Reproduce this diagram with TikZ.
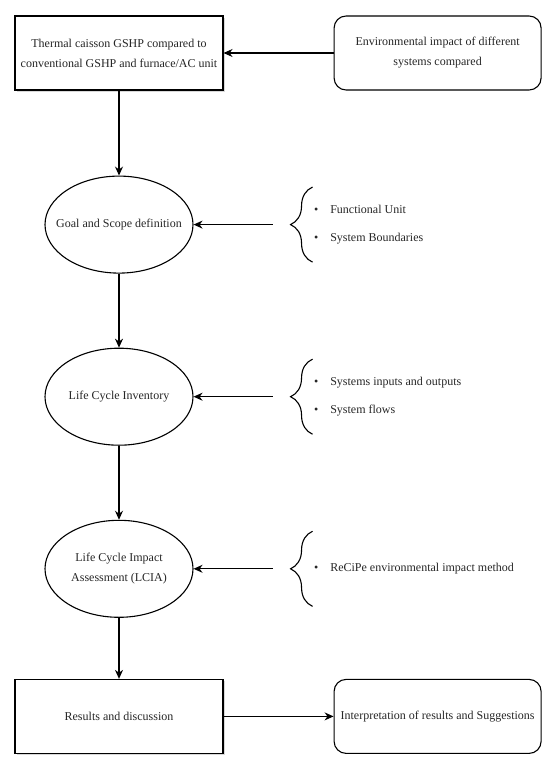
\documentclass[tikz,border=0pt]{standalone}
\usepackage{fontspec}
\setmainfont{Liberation Serif}
\usetikzlibrary{shapes, positioning, arrows.meta, shadows, decorations.pathreplacing}

\begin{document}
\begin{tikzpicture}[font=\fontsize{12}{20}\selectfont, line width=1.1pt, text=black!85]
        \tikzstyle{block} = [rectangle, draw, fill=white, align=center, minimum width=208pt, minimum height=74pt, drop shadow={shadow xshift=2pt, shadow yshift=-2pt, fill=black!30}]
        \tikzstyle{soft} = [rectangle, draw, rounded corners=12pt, align=center, minimum width=207pt, minimum height=74pt]
        \tikzstyle{stage} = [ellipse, draw, align=center, minimum width=148pt, minimum height=97pt, inner xsep=-12pt, inner ysep=0pt]
        \tikzstyle{items} = [rectangle, align=left, minimum height=74pt, inner sep=0pt]
        \tikzstyle{line} = [-{Stealth[length=9pt, width=8pt]}]
        \tikzstyle{curly} = [decorate, decoration={brace, amplitude=22pt}]
        \useasboundingbox (0,0) rectangle (550pt,-759pt);

        \node (cmp) [block] at (119pt,-53pt) {Thermal caisson GSHP compared to \\ conventional GSHP and furnace/AC unit};
        \node (env) [soft, right=110pt of cmp] {Environmental impact of different \\ systems compared};
        \node (gs) [stage, below=85pt of cmp] {Goal and Scope definition};
        \node (lci) [stage, below=74pt of gs] {Life Cycle Inventory};
        \node (lcia) [stage, below=74pt of lci] {Life Cycle Impact \\ Assessment (LCIA)};
        \node (res) [block, below=61pt of lcia] {Results and discussion};
        \node (intp) [soft, right=110pt of res] {Interpretation of results and Suggestions};

        % bullet lists beside the stages
        \node (gsl) [items, right=119pt of gs] {\hspace*{1pt}\textbullet\hspace{12pt}Functional Unit \\[8pt] \hspace*{1pt}\textbullet\hspace{12pt}System Boundaries};
        \node (lcil) [items, right=119pt of lci] {\hspace*{1pt}\textbullet\hspace{12pt}Systems inputs and outputs \\[8pt] \hspace*{1pt}\textbullet\hspace{12pt}System flows};
        \node (lcial) [items, right=119pt of lcia] {\hspace*{1pt}\textbullet\hspace{12pt}ReCiPe environmental impact method};

        \draw [curly] (gsl.south west) -- (gsl.north west);
        \draw [curly] (lcil.south west) -- (lcil.north west);
        \draw [curly] (lcial.south west) -- (lcial.north west);

        \draw [line] (env) -- (cmp);
        \draw [line] (cmp) -- (gs);
        \draw [line] (gs) -- (lci);
        \draw [line] (lci) -- (lcia);
        \draw [line] (lcia) -- (res);
        \draw [line] (res) -- (intp);
        \draw [line] ([xshift=-40pt]gsl.west) -- (gs.east);
        \draw [line] ([xshift=-40pt]lcil.west) -- (lci.east);
        \draw [line] ([xshift=-40pt]lcial.west) -- (lcia.east);
\end{tikzpicture}
\end{document}
